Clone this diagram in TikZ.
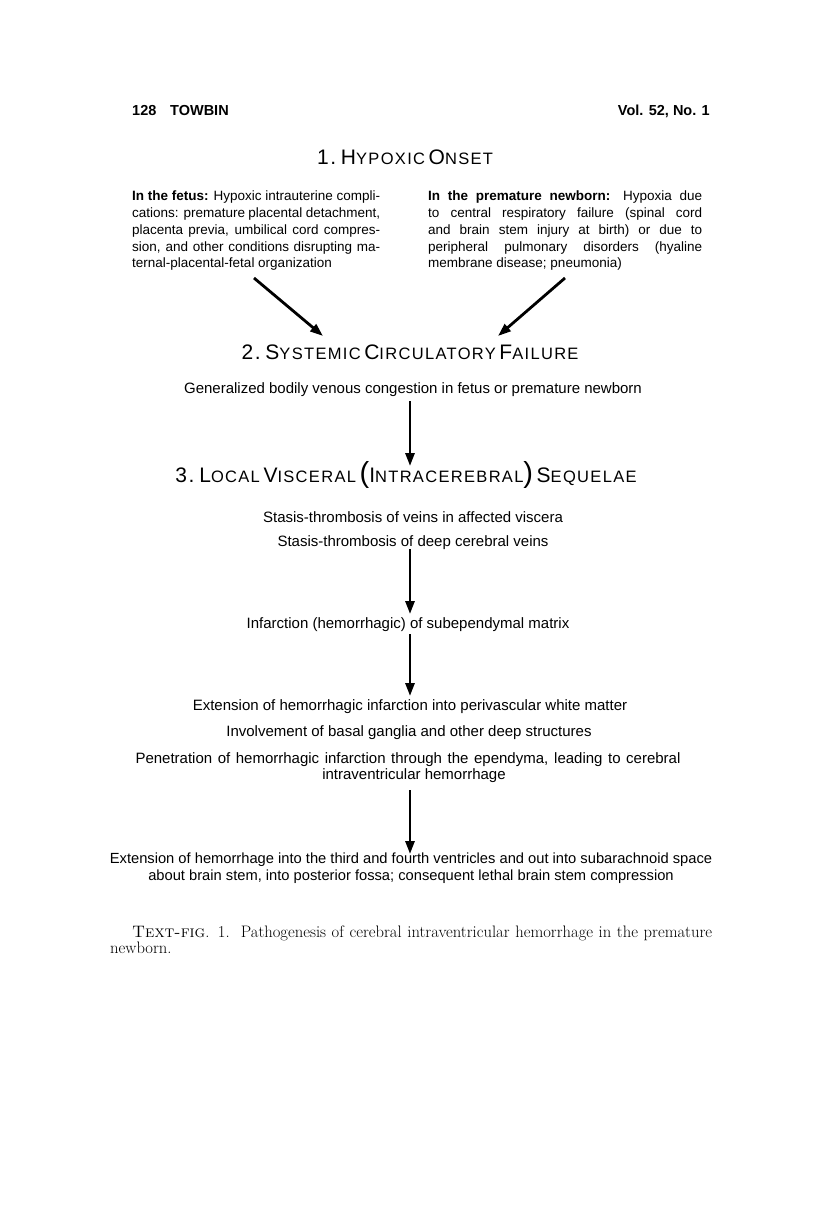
\documentclass[tikz,border=0pt]{standalone}
\usepackage{fontspec}
\newfontfamily\txtfont{Liberation Sans}
\newfontfamily\ttlfont[LetterSpace=8]{Liberation Sans}
\usetikzlibrary{arrows.meta}
\newcommand\capA[1]{{\fontsize{21}{21}\selectfont #1}}
\newcommand\capB[1]{{\fontsize{16.5}{16.5}\selectfont #1}}
\newcommand\plin[2]{\makebox[#1][s]{#2}}
\tikzset{
  body/.style={font=\txtfont\fontsize{15}{17}\selectfont, inner sep=0pt, anchor=base},
  para/.style={font=\txtfont\fontsize{13.5}{16.75}\selectfont, inner sep=0pt, anchor=north west, align=left},
  ttl/.style={font=\ttlfont, inner sep=0pt, anchor=base},
  head/.style={font=\txtfont\bfseries\fontsize{14.5}{16}\selectfont, inner sep=0pt},
  captext/.style={font=\fontsize{16.6}{17}\selectfont, inner sep=0pt, anchor=base west, align=left},
  arr/.style={line width=2.8pt, -{Triangle[width=9pt,length=13pt]}}
}
\begin{document}
\begin{tikzpicture}[x=1pt,y=-1pt]
\useasboundingbox (0,0) rectangle (816,1229);
\fill[white] (0,0) rectangle (816,1229);
% header
\node[head, anchor=base west] (pg) at (132,115) {128};
\node[head, anchor=base west] (au) at (170,115) {TOWBIN};
\node[head, anchor=base east] (vol) at (710,115) {Vol. 52, No. 1};
% title 1
\node[ttl] (t1) at (405,164) {\capA{1.} \capA{H}\capB{YPOXIC} \capA{O}\capB{NSET}};
% paragraphs
\node[para] (pl) at (132,191) {%
\plin{248pt}{\textbf{In the fetus:} Hypoxic intrauterine compli-}\\
\plin{248pt}{cations: premature placental detachment,}\\
\plin{248pt}{placenta previa, umbilical cord compres-}\\
\plin{248pt}{sion, and other conditions disrupting ma-}\\
ternal-placental-fetal organization};
\node[para] (pr) at (428,191) {%
\plin{274pt}{\textbf{In the premature newborn:} Hypoxia due}\\
\plin{274pt}{to central respiratory failure (spinal cord}\\
\plin{274pt}{and brain stem injury at birth) or due to}\\
\plin{274pt}{peripheral pulmonary disorders (hyaline}\\
membrane disease; pneumonia)};
% title 2
\node[ttl] (t2) at (410,359) {\capA{2.} \capA{S}\capB{YSTEMIC} \capA{C}\capB{IRCULATORY} \capA{F}\capB{AILURE}};
\coordinate (a1s) at (254,278);
\coordinate (a1e) at (323,336);
\coordinate (a2s) at (565,278);
\coordinate (a2e) at (498,336);
\draw[arr] (a1s) -- (a1e);
\draw[arr] (a2s) -- (a2e);
\node[body] (g) at (413,393) {Generalized bodily venous congestion in fetus or premature newborn};
% title 3
\node[ttl] (t3) at (406,482) {\capA{3.} \capA{L}\capB{OCAL} \capA{V}\capB{ISCERAL} {\fontsize{29}{29}\selectfont(}\capA{I}\capB{NTRACEREBRAL}{\fontsize{29}{29}\selectfont)} \capA{S}\capB{EQUELAE}};
\node[body] (s1) at (413,522) {Stasis-thrombosis of veins in affected viscera};
\node[body] (s2) at (413,546) {Stasis-thrombosis of deep cerebral veins};
\node[body] (inf) at (408,628) {Infarction (hemorrhagic) of subependymal matrix};
\node[body] (ext) at (410,710) {Extension of hemorrhagic infarction into perivascular white matter};
\node[body] (inv) at (409,736) {Involvement of basal ganglia and other deep structures};
\node[body] (pen) at (408,763) {\plin{545pt}{Penetration of hemorrhagic infarction through the ependyma, leading to cerebral}};
\node[body] (ivh) at (414,779) {intraventricular hemorrhage};
\node[body, font=\txtfont\fontsize{14.7}{17}\selectfont] (fin) at (411,863) {Extension of hemorrhage into the third and fourth ventricles and out into subarachnoid space};
\node[body, font=\txtfont\fontsize{14.7}{17}\selectfont] (fin2) at (411,880) {about brain stem, into posterior fossa; consequent lethal brain stem compression};
% vertical arrows
\coordinate (v1s) at (410,401); \coordinate (v1e) at (410,466);
\coordinate (v2s) at (410,549); \coordinate (v2e) at (410,614);
\coordinate (v3s) at (410,634); \coordinate (v3e) at (410,696);
\coordinate (v4s) at (410,790); \coordinate (v4e) at (410,854);
\draw[arr] (v1s) -- (v1e);
\draw[arr] (v2s) -- (v2e);
\draw[arr] (v3s) -- (v3e);
\draw[arr] (v4s) -- (v4e);
% caption
\node[captext] (c1) at (132,937) {\plin{580pt}{\textsc{Text-fig}. 1.\ \ Pathogenesis of cerebral intraventricular hemorrhage in the premature}};
\node[captext] (c2) at (110,953) {newborn.};
\end{tikzpicture}
\end{document}
